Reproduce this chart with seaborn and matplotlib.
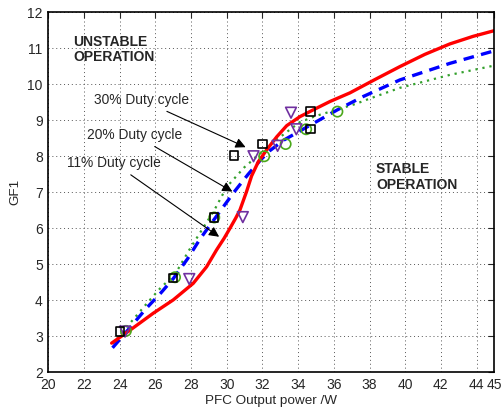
import numpy as np
import pandas as pd
import matplotlib
matplotlib.use("Agg")
import matplotlib.pyplot as plt
import seaborn as sns

# data
red_x = [23.55, 24.58, 25.88, 27.0, 28.12, 28.87, 29.43, 29.85, 30.18, 30.5, 30.74, 31.11, 31.39, 31.77,
         32.24, 32.8, 33.36, 34.1, 34.85, 35.78, 36.9, 38.3, 39.7, 41.1, 42.5, 43.8, 45.0]
red_y = [2.81, 3.17, 3.64, 4.01, 4.47, 4.93, 5.40, 5.72, 6.0, 6.28, 6.51, 7.02, 7.45, 7.85,
         8.18, 8.54, 8.85, 9.1, 9.29, 9.52, 9.76, 10.13, 10.49, 10.83, 11.12, 11.33, 11.49]

blue_x = [23.6, 24.3, 25.5, 26.3, 27.0, 27.8, 28.5, 29.3, 30.4, 31.2, 31.9, 32.4, 33.2, 34.7,
          36.2, 37.65, 39.7, 42.5, 45.0]
blue_y = [2.68, 3.08, 3.78, 4.2, 4.6, 5.15, 5.7, 6.25, 7.0, 7.5, 7.9, 8.15, 8.45, 8.87,
          9.29, 9.66, 10.12, 10.58, 10.93]

green_x = [23.6, 24.3, 25.5, 26.3, 27.1, 27.9, 28.6, 29.3, 30.0, 31.0, 31.7, 32.5, 33.3, 34.1,
           35.0, 36.2, 37.2, 38.0, 39.7, 42.5, 45.0]
green_y = [2.8, 3.2, 3.9, 4.35, 4.72, 5.4, 5.95, 6.5, 7.15, 7.7, 8.0, 8.35, 8.65, 8.95,
           9.12, 9.3, 9.45, 9.6, 9.9, 10.26, 10.52]

sq_x = [24.0, 27.0, 29.3, 30.4, 32.0, 34.7, 34.7]
sq_y = [3.13, 4.62, 6.30, 8.02, 8.34, 8.75, 9.24]

tri_x = [24.3, 27.9, 30.9, 31.5, 32.85, 33.6, 33.9]
tri_y = [3.13, 4.59, 6.31, 8.00, 8.29, 9.21, 8.75]

circ_x = [24.35, 27.1, 29.3, 32.1, 33.3, 34.45, 36.2]
circ_y = [3.15, 4.64, 6.30, 8.00, 8.34, 8.75, 9.24]

x_ticks = [20, 22, 24, 26, 28, 30, 32, 34, 36, 38, 40, 42, 44, 45]
y_ticks = [2, 3, 4, 5, 6, 7, 8, 9, 10, 11, 12]

sns.set_style("white")
plt.rcParams['font.family'] = ['Liberation Sans', 'DejaVu Sans']

fig = plt.figure(figsize=(5.03, 4.08), dpi=100)
ax = fig.add_axes([0.096, 0.0875, 0.887, 0.8825])

# curves
sns.lineplot(x=green_x, y=green_y, sort=False, ax=ax, color="#33a02c",
             linestyle=(0, (1, 2.2)), linewidth=1.6)
sns.lineplot(x=blue_x, y=blue_y, sort=False, ax=ax, color="#0000ff",
             linestyle=(0, (3.2, 2.2)), linewidth=2.4)
sns.lineplot(x=red_x, y=red_y, sort=False, ax=ax, color="#ff0000",
             linewidth=2.4)

# measured points
sns.scatterplot(x=circ_x, y=circ_y, ax=ax, marker="o", s=55,
                facecolor="none", edgecolor="#4aa81a", linewidth=1.2, zorder=5)
sns.scatterplot(x=tri_x, y=tri_y, ax=ax, marker="v", s=60,
                facecolor="none", edgecolor="#7030a0", linewidth=1.2, zorder=5)
sns.scatterplot(x=sq_x, y=sq_y, ax=ax, marker="s", s=36,
                facecolor="none", edgecolor="black", linewidth=1.2, zorder=6)

ax.set_xlim(20, 45)
ax.set_ylim(2, 12)
ax.set_xticks(x_ticks)
ax.set_yticks(y_ticks)
ax.tick_params(direction="in", top=True, right=True, length=4, width=0.8,
               labelsize=10, pad=4)
ax.grid(True, linestyle=(0, (1, 3)), color="#555555", linewidth=0.7)
for s in ax.spines.values():
    s.set_color("black")
    s.set_linewidth(1.2)

ax.set_xlabel("PFC Output power /W", fontsize=9.7, labelpad=2)
ax.set_ylabel("GF1", fontsize=9.7, labelpad=4)

# annotations
arrow = dict(arrowstyle="-|>", color="black", lw=0.8, mutation_scale=15)
ax.annotate("30% Duty cycle", xy=(31.2, 8.22), xytext=(27.9, 9.37),
            fontsize=9.9, ha="right", va="bottom", arrowprops=arrow)
ax.annotate("20% Duty cycle", xy=(30.45, 6.98), xytext=(27.5, 8.4),
            fontsize=9.9, ha="right", va="bottom", arrowprops=arrow)
ax.annotate("11% Duty cycle", xy=(29.7, 5.72), xytext=(26.3, 7.62),
            fontsize=9.9, ha="right", va="bottom", arrowprops=arrow)

ax.text(21.38, 10.97, "UNSTABLE\nOPERATION", fontsize=10, fontweight="bold",
        ha="left", va="center", linespacing=1.15)
ax.text(38.36, 7.43, "STABLE\nOPERATION", fontsize=10, fontweight="bold",
        ha="left", va="center", linespacing=1.15)

fig.savefig("out.png", dpi=100)
